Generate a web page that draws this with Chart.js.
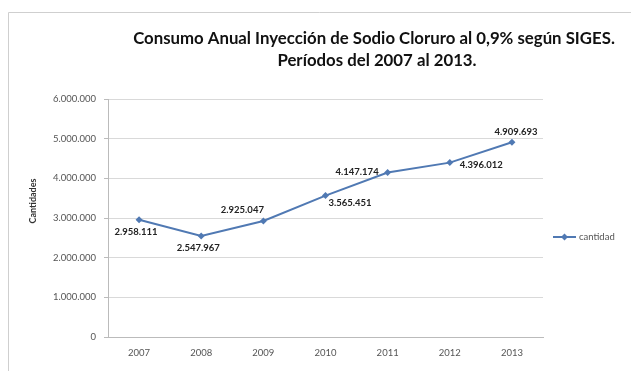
<!DOCTYPE html>
<html>
<head>
<meta charset="utf-8">
<script src="https://cdn.jsdelivr.net/npm/chart.js@4/dist/chart.umd.min.js"></script>
<style>
  html, body { margin: 0; padding: 0; background: #fff; }
  #wrap { width: 631px; height: 371px; position: relative; }
</style>
</head>
<body>
<div id="wrap"><canvas id="chart" width="631" height="371"></canvas></div>
<script>
// data
const years = ['2007', '2008', '2009', '2010', '2011', '2012', '2013'];
const cantidad = [2958111, 2547967, 2925047, 3565451, 4147174, 4396012, 4909693];
const yTicks = [0, 1000000, 2000000, 3000000, 4000000, 5000000, 6000000];
const titleLines = ['Consumo Anual Inyección de Sodio Cloruro al 0,9% según SIGES.', 'Períodos del 2007 al 2013.'];
const seriesName = 'cantidad';
const yTitle = 'Cantidades';

// where each value label sits around its point
const labelPlace = ['below', 'below', 'above-left', 'below-right', 'left', 'right', 'above'];

const lineColor = '#5079b3';
const fontFam = 'Lato, "Open Sans", sans-serif';

// thousands with dots, like 2.958.111
const fmt = v => String(Math.round(v)).replace(/\B(?=(\d{3})+(?!\d))/g, '.');

const extras = {
    id: 'extras',
    beforeDraw(c) {
        // outer frame of the chart object
        const ctx = c.ctx;
        ctx.save();
        ctx.strokeStyle = '#cfcfcf';
        ctx.lineWidth = 1;
        ctx.beginPath();
        ctx.moveTo(8.5, 371);
        ctx.lineTo(8.5, 12.5);
        ctx.lineTo(631, 12.5);
        ctx.stroke();
        ctx.restore();
    },
    afterDraw(c) {
        const ctx = c.ctx;
        ctx.save();
        // title
        ctx.fillStyle = '#111';
        ctx.font = 'bold 16.8px ' + fontFam;
        ctx.textAlign = 'center';
        ctx.textBaseline = 'middle';
        ctx.fillText(titleLines[0], 374, 39);
        ctx.fillText(titleLines[1], 377, 61);

        // y axis title
        ctx.save();
        ctx.translate(33, 201);
        ctx.rotate(-Math.PI / 2);
        ctx.font = 'bold 9px ' + fontFam;
        ctx.fillStyle = '#333';
        ctx.fillText(yTitle, 0, 0);
        ctx.restore();

        // value labels
        ctx.font = 'bold 9.5px ' + fontFam;
        ctx.fillStyle = '#222';
        const pts = c.getDatasetMeta(0).data;
        pts.forEach((p, i) => {
            const t = fmt(cantidad[i]);
            let x = p.x, y = p.y;
            switch (labelPlace[i]) {
                case 'below': x -= 3; y += 12; ctx.textAlign = 'center'; break;
                case 'above-left': x -= 21; y -= 11; ctx.textAlign = 'center'; break;
                case 'above': x += 4; y -= 10; ctx.textAlign = 'center'; break;
                case 'below-right': x += 3; y += 7; ctx.textAlign = 'left'; break;
                case 'left': x -= 9; y -= 1; ctx.textAlign = 'right'; break;
                case 'right': x += 10; y += 2; ctx.textAlign = 'left'; break;
            }
            ctx.fillText(t, x, y);
        });

        // legend
        const ly = 237;
        ctx.strokeStyle = lineColor;
        ctx.lineWidth = 2;
        ctx.beginPath();
        ctx.moveTo(553, ly);
        ctx.lineTo(576, ly);
        ctx.stroke();
        ctx.fillStyle = lineColor;
        ctx.beginPath();
        ctx.moveTo(564.5, ly - 3.5);
        ctx.lineTo(568, ly);
        ctx.lineTo(564.5, ly + 3.5);
        ctx.lineTo(561, ly);
        ctx.closePath();
        ctx.fill();
        ctx.fillStyle = '#555';
        ctx.font = '9.5px ' + fontFam;
        ctx.textAlign = 'left';
        ctx.fillText(seriesName, 579, ly);
        ctx.restore();
    }
};

new Chart(document.querySelector('#chart').getContext('2d'), {
    type: 'line',
    data: {
        labels: years,
        datasets: [
            {
                label: seriesName,
                data: cantidad,
                borderColor: lineColor,
                backgroundColor: lineColor,
                borderWidth: 2,
                pointStyle: 'rectRot',
                pointRadius: 3.5,
                pointBorderWidth: 0,
                tension: 0
            }
        ]
    },
    options: {
        responsive: false,
        animation: false,
        layout: { padding: { left: 20, top: 99, right: 88, bottom: 10 } },
        plugins: {
            legend: { display: false },
            title: { display: false },
            tooltip: { enabled: false }
        },
        scales: {
            x: {
                offset: true,
                grid: { display: false, drawTicks: false },
                border: { color: '#bbb', width: 1 },
                ticks: { color: '#555', font: { family: fontFam, size: 9.5 }, padding: 10, maxRotation: 0 },
                afterFit(s) { s.height = 24; }
            },
            y: {
                min: 0,
                max: 6000000,
                afterBuildTicks(s) { s.ticks = yTicks.map(v => ({ value: v })); },
                grid: { color: '#d9d9d9', lineWidth: 1, tickLength: 4, tickColor: '#bbb' },
                border: { color: '#bbb', width: 1 },
                ticks: { color: '#555', font: { family: fontFam, size: 9.5 }, padding: 8, callback: v => fmt(v) },
                afterFit(s) { s.width = 88; }
            }
        }
    },
    plugins: [extras]
});
</script>
</body>
</html>
